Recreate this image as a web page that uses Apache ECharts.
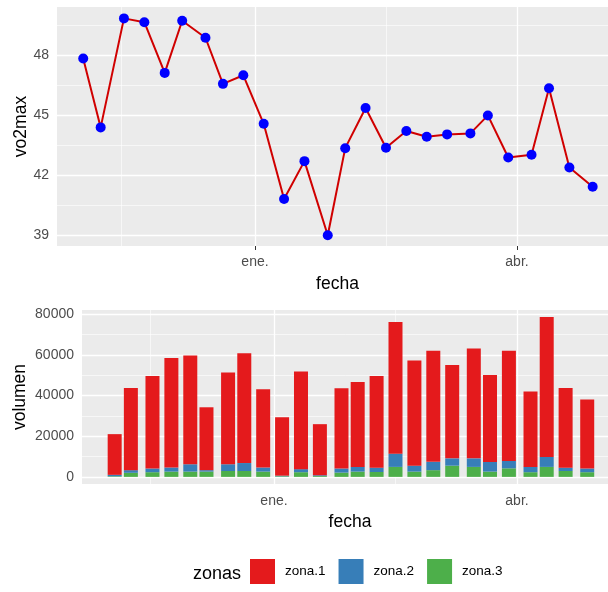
<!DOCTYPE html>
<html>
<head>
<meta charset="utf-8">
<script src="https://cdn.jsdelivr.net/npm/echarts@6/dist/echarts.min.js"></script>
<style>
  html, body { margin: 0; padding: 0; background: #fff; }
  #chart { width: 608px; height: 592px; }
</style>
</head>
<body>
<div id="chart"></div>
<script>
// session dates
const fechas = ['2018-11-03', '2018-11-09', '2018-11-17', '2018-11-24', '2018-12-01', '2018-12-07',
  '2018-12-15', '2018-12-21', '2018-12-28', '2019-01-04', '2019-01-11', '2019-01-18', '2019-01-26',
  '2019-02-01', '2019-02-08', '2019-02-15', '2019-02-22', '2019-03-01', '2019-03-08', '2019-03-16',
  '2019-03-22', '2019-03-29', '2019-04-06', '2019-04-12', '2019-04-19', '2019-04-27']

const vo2max = [47.85, 44.4, 49.86, 49.67, 47.13, 49.74, 48.89, 46.58, 47.01, 44.58, 40.81, 42.71, 39.0,
  43.36, 45.37, 43.38, 44.22, 43.93, 44.05, 44.1, 45.0, 42.89, 43.03, 46.36, 42.39, 41.43]

const zona1 = [20000, 40400, 45500, 53800, 53500, 30900, 45100, 54000, 38400, 28700, 48000, 25100, 39400,
  41700, 45100, 64700, 51700, 54600, 45900, 54000, 42800, 54200, 37000, 68800, 39200, 33900]
const zona2 = [700, 1300, 1800, 2000, 3600, 700, 3300, 3900, 2000, 300, 1500, 400, 2000,
  2300, 2100, 6500, 2900, 4100, 3600, 4200, 4700, 3600, 2600, 4900, 1600, 1800]
const zona3 = [300, 2000, 2300, 2600, 2600, 2600, 2900, 2900, 2600, 300, 2300, 400, 2100,
  2600, 2400, 4900, 2600, 3300, 5500, 4900, 2600, 4200, 2300, 4900, 2900, 2300]

const zonaNames = ['zona.1', 'zona.2', 'zona.3']
const zonaColors = ['#E41A1C', '#377EB8', '#4DAF4A']

// axis breaks
const dateBreaks = ['2019-01-01', '2019-04-01']
const dateLabels = ['ene.', 'abr.']
const dateMinor = ['2018-11-16', '2019-02-15']
const vo2Breaks = [39, 42, 45, 48]
const vo2Minor = [40.5, 43.5, 46.5, 49.5]
const volBreaks = [0, 20000, 40000, 60000, 80000]
const volMinor = [10000, 30000, 50000, 70000]

// dates as days from 1 Jan 2019
const origin = Date.UTC(2019, 0, 1)
function toDay(s) {
  const p = s.split('-').map(Number)
  return Math.round((Date.UTC(p[0], p[1] - 1, p[2]) - origin) / 86400000)
}
const days = fechas.map(toDay)
const breakDays = dateBreaks.map(toDay)
const minorDays = dateMinor.map(toDay)

const font = 'Liberation Sans, Arial, sans-serif'
const labelStyle = { color: '#4d4d4d', fontSize: 14, fontFamily: font }
const nameStyle = { color: '#000', fontSize: 17.5, fontFamily: font }

function gridLines(xIndex, yIndex, xs, ys, width) {
  return {
    type: 'line',
    xAxisIndex: xIndex,
    yAxisIndex: yIndex,
    data: [],
    z: 1,
    silent: true,
    markLine: {
      z: 1,
      silent: true,
      symbol: ['none', 'none'],
      label: { show: false },
      animation: false,
      lineStyle: { color: '#ffffff', type: 'solid', width: width },
      data: xs.map(v => ({ xAxis: v })).concat(ys.map(v => ({ yAxis: v })))
    }
  }
}

function xAxisFor(gridIndex, min, max, margin) {
  return {
    type: 'value',
    gridIndex: gridIndex,
    min: min,
    max: max,
    name: 'fecha',
    nameLocation: 'middle',
    nameGap: 29,
    nameMoveOverlap: false,
    nameTextStyle: nameStyle,
    axisLine: { show: false },
    splitLine: { show: false },
    axisTick: { show: true, length: 4, lineStyle: { color: '#333' }, customValues: breakDays },
    axisLabel: {
      ...labelStyle,
      margin: margin,
      customValues: breakDays,
      formatter: v => dateLabels[breakDays.indexOf(+v)]
    }
  }
}

function yAxisFor(gridIndex, min, max, name, gap, breaks) {
  return {
    type: 'value',
    gridIndex: gridIndex,
    min: min,
    max: max,
    name: name,
    nameLocation: 'middle',
    nameGap: gap,
    nameMoveOverlap: false,
    nameTextStyle: nameStyle,
    axisLine: { show: false },
    splitLine: { show: false },
    axisTick: { show: true, length: 4, lineStyle: { color: '#333' }, customValues: breaks },
    axisLabel: { ...labelStyle, margin: 8, customValues: breaks, formatter: v => String(v) }
  }
}

const chart = echarts.init(document.getElementById('chart'))
chart.setOption({
  animation: false,
  backgroundColor: '#ffffff',
  grid: [
    { left: 57, top: 7, width: 561, height: 239, outerBoundsMode: 'none',
      show: true, backgroundColor: '#EBEBEB', borderWidth: 0 },
    { left: 82, top: 310, width: 536, height: 174, outerBoundsMode: 'none',
      show: true, backgroundColor: '#EBEBEB', borderWidth: 0 }
  ],
  xAxis: [
    xAxisFor(0, -68, 124.7, 9),
    xAxisFor(1, -71.1, 127.4, 10)
  ],
  yAxis: [
    yAxisFor(0, 38.46, 50.43, 'vo2max', 27, vo2Breaks),
    yAxisFor(1, -3500, 82000, 'volumen', 53, volBreaks)
  ],
  title: {
    text: 'zonas',
    left: 188,
    top: 560,
    textStyle: { color: '#000', fontSize: 18, fontWeight: 'normal', fontFamily: font }
  },
  legend: {
    data: zonaNames,
    left: 250,
    top: 559,
    padding: 0,
    icon: 'rect',
    itemWidth: 25,
    itemHeight: 25,
    itemGap: 13,
    selectedMode: false,
    textStyle: { color: '#000', fontSize: 13.5, fontFamily: font, padding: [0, 0, 0, 5] }
  },
  series: [
    gridLines(0, 0, minorDays, vo2Minor, 0.6),
    gridLines(0, 0, breakDays, vo2Breaks, 1.3),
    gridLines(1, 1, minorDays, volMinor, 0.6),
    gridLines(1, 1, breakDays, volBreaks, 1.3),
    {
      type: 'line',
      xAxisIndex: 0,
      yAxisIndex: 0,
      z: 3,
      data: days.map((d, i) => [d, vo2max[i]]),
      lineStyle: { color: '#D00000', width: 2 },
      symbol: 'circle',
      symbolSize: 10,
      itemStyle: { color: '#0000FF' }
    },
    // value first so the stack runs on volumen, not on fecha
    ...[zona3, zona2, zona1].map((vals, k) => {
      const idx = 2 - k
      return {
        name: zonaNames[idx],
        type: 'bar',
        xAxisIndex: 1,
        yAxisIndex: 1,
        stack: 'vol',
        z: 3,
        barWidth: 14,
        encode: { x: 1, y: 0 },
        itemStyle: { color: zonaColors[idx] },
        data: days.map((d, i) => [vals[i], d])
      }
    })
  ]
})
</script>
</body>
</html>
